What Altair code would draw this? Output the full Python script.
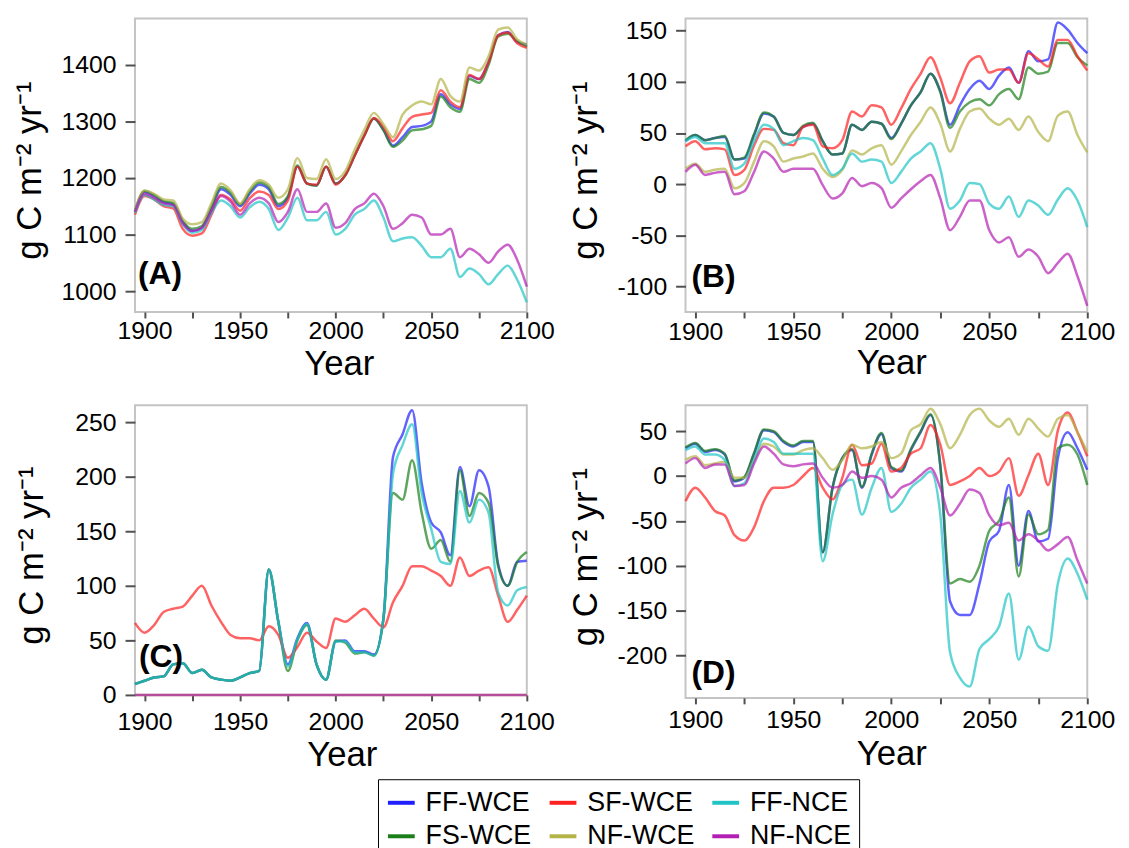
import altair as alt
import pandas as pd

years = [1895, 1900, 1905, 1910, 1915, 1920, 1925, 1930, 1935, 1940,
         1945, 1950, 1955, 1960, 1965, 1970, 1975, 1980, 1985, 1990,
         1995, 2000, 2005, 2010, 2015, 2020, 2025, 2030, 2035, 2040,
         2045, 2050, 2055, 2060, 2065, 2070, 2075, 2080, 2085, 2090,
         2095, 2100]

SERIES = ["FF-WCE", "SF-WCE", "FF-NCE", "FS-WCE", "NF-WCE", "NF-NCE"]
COLORS = ["#1f1fff", "#ff2020", "#20c4c4", "#1a7f1a", "#b3b347", "#b31fb3"]
DRAW_ORDER = ["FF-WCE", "FS-WCE", "SF-WCE", "NF-WCE", "FF-NCE", "NF-NCE"]

# ---------------- Panel A ----------------
A_FF_WCE = [1140, 1175, 1168, 1157, 1153, 1122, 1106, 1112, 1145, 1180,
            1170, 1150, 1172, 1188, 1180, 1150, 1165, 1220, 1190, 1187,
            1220, 1190, 1205, 1240, 1275, 1305, 1285, 1257, 1272, 1290,
            1292, 1300, 1348, 1330, 1322, 1380, 1375, 1405, 1452, 1458,
            1440, 1436]
A_FS_WCE = [1142, 1177, 1170, 1159, 1156, 1124, 1110, 1115, 1150, 1184,
            1174, 1153, 1176, 1192, 1184, 1154, 1168, 1222, 1190, 1186,
            1220, 1190, 1204, 1240, 1275, 1305, 1284, 1255, 1266, 1284,
            1286, 1292, 1344, 1325, 1317, 1375, 1368, 1400, 1450, 1455,
            1442, 1432]
A_SF_WCE = [1135, 1168, 1162, 1150, 1146, 1110, 1098, 1102, 1135, 1170,
            1162, 1142, 1164, 1176, 1170, 1145, 1160, 1220, 1190, 1188,
            1220, 1188, 1205, 1240, 1275, 1306, 1290, 1265, 1288, 1308,
            1312, 1315, 1355, 1335, 1325, 1382, 1375, 1405, 1452, 1457,
            1438, 1430]
A_NF_WCE = [1142, 1178, 1172, 1162, 1160, 1128, 1118, 1122, 1155, 1190,
            1178, 1155, 1180, 1196, 1188, 1165, 1180, 1235, 1200, 1198,
            1233, 1198, 1212, 1250, 1285, 1315, 1295, 1272, 1312, 1328,
            1335, 1330, 1375, 1345, 1335, 1395, 1390, 1415, 1462, 1466,
            1445, 1436]
A_FF_NCE = [1138, 1170, 1162, 1152, 1150, 1118, 1103, 1108, 1138, 1160,
            1150, 1130, 1148, 1158, 1145, 1108, 1130, 1165, 1125, 1125,
            1140, 1100, 1110, 1135, 1145, 1160, 1130, 1088, 1093, 1095,
            1080, 1060, 1060, 1075, 1025, 1040, 1030, 1012, 1030, 1045,
            1020, 980]
A_NF_NCE = [1140, 1172, 1165, 1155, 1152, 1120, 1106, 1112, 1142, 1168,
            1158, 1135, 1155, 1165, 1155, 1122, 1140, 1180, 1140, 1140,
            1155, 1112, 1120, 1145, 1155, 1172, 1150, 1110, 1120, 1135,
            1130, 1100, 1100, 1110, 1060, 1075, 1065, 1050, 1070, 1082,
            1055, 1008]

# ---------------- Panel B ----------------
B_FF_WCE = [42, 48, 43, 45, 46, 24, 25, 48, 69, 66,
            50, 48, 56, 59, 42, 29, 30, 58, 53, 61,
            59, 45, 59, 77, 90, 108, 91, 58, 77, 93,
            101, 93, 106, 114, 99, 130, 120, 122, 158, 151,
            138, 128]
B_FS_WCE = [43, 48, 43, 45, 47, 24, 26, 49, 70, 66,
            50, 48, 57, 60, 42, 29, 30, 58, 53, 61,
            59, 44, 59, 77, 90, 108, 90, 55, 71, 80,
            83, 77, 88, 93, 83, 114, 108, 110, 138, 138,
            124, 116]
B_SF_WCE = [37, 42, 34, 35, 34, 9, 14, 38, 54, 53,
            40, 38, 56, 58, 37, 35, 43, 71, 66, 77,
            75, 58, 74, 93, 108, 124, 104, 79, 99, 120,
            125, 109, 112, 112, 99, 128, 122, 115, 141, 141,
            125, 111]
B_FF_NCE = [42, 46, 40, 40, 40, 15, 20, 42, 58, 54,
            38, 42, 45, 43, 25, 9, 15, 30, 22, 24,
            22, 1, 12, 25, 32, 40, 15, -24, -16, 1,
            0, -19, -24, -12, -32, -16, -21, -30, -15, -4,
            -16, -42]
B_NF_WCE = [15, 20, 12, 14, 15, -4, 1, 22, 42, 37,
            22, 25, 27, 30, 15, 7, 14, 33, 29, 35,
            38, 19, 32, 48, 61, 75, 59, 32, 54, 71,
            74, 64, 58, 64, 53, 66, 51, 42, 67, 71,
            48, 31]
B_NF_NCE = [12, 19, 9, 11, 12, -10, -7, 12, 32, 25,
            12, 15, 15, 15, -1, -14, -9, 6, -2, 1,
            -4, -23, -14, -5, 3, 9, -14, -45, -32, -16,
            -16, -45, -57, -52, -71, -64, -71, -87, -77, -68,
            -90, -119]

# ---------------- Panel C ----------------
C_FF_WCE = [10, 13, 16, 17, 28, 29, 20, 23, 16, 14,
            13, 16, 20, 22, 115, 67, 28, 52, 66, 28,
            14, 49, 50, 40, 40, 37, 70, 218, 239, 261,
            194, 158, 149, 128, 209, 173, 206, 191, 120, 100,
            122, 123]
C_FS_WCE = [10, 13, 16, 17, 28, 29, 20, 23, 16, 14,
            13, 16, 20, 22, 115, 67, 22, 50, 64, 28,
            14, 50, 48, 38, 39, 36, 70, 185, 179, 215,
            167, 134, 142, 122, 206, 164, 185, 176, 118, 100,
            122, 131]
C_SF_WCE = [66, 57, 64, 76, 79, 81, 91, 100, 82, 67,
            55, 52, 52, 50, 63, 55, 34, 44, 57, 49,
            43, 70, 67, 73, 79, 70, 62, 85, 100, 118,
            118, 114, 109, 100, 126, 109, 114, 117, 91, 67,
            78, 91]
C_NF_WCE = [0, 0, 0, 0, 0, 0, 0, 0, 0, 0,
            0, 0, 0, 0, 0, 0, 0, 0, 0, 0,
            0, 0, 0, 0, 0, 0, 0, 0, 0, 0,
            0, 0, 0, 0, 0, 0, 0, 0, 0, 0,
            0, 0]
C_FF_NCE = [10, 13, 16, 17, 28, 29, 20, 23, 16, 14,
            13, 16, 20, 22, 115, 67, 26, 51, 65, 28,
            14, 49, 49, 39, 39, 36, 70, 203, 229, 248,
            185, 152, 122, 120, 187, 158, 179, 167, 94, 82,
            96, 99]
C_NF_NCE = [0, 0, 0, 0, 0, 0, 0, 0, 0, 0,
            0, 0, 0, 0, 0, 0, 0, 0, 0, 0,
            0, 0, 0, 0, 0, 0, 0, 0, 0, 0,
            0, 0, 0, 0, 0, 0, 0, 0, 0, 0,
            0, 0]

# ---------------- Panel D ----------------
D_FF_WCE = [31, 36, 27, 29, 24, -6, -2, 25, 51, 49,
            38, 33, 38, 38, -85, -13, 20, 29, -13, 24,
            47, 9, 5, 29, 49, 68, 12, -140, -155, -155,
            -120, -73, -61, -10, -100, -39, -73, -70, 20, 49,
            31, 7]
D_FS_WCE = [32, 37, 28, 30, 25, -5, -1, 26, 52, 50,
            39, 34, 39, 39, -85, -13, 20, 30, -12, 25,
            48, 10, 6, 30, 50, 69, 12, -120, -115, -118,
            -100, -61, -50, -24, -112, -43, -65, -60, 31, 35,
            24, -10]
D_SF_WCE = [-28, -13, -24, -39, -44, -66, -72, -57, -28, -13,
            -13, -10, 0, 9, -13, -26, -2, 35, 12, 14,
            36, 5, 9, 25, 31, 57, 35, -10, -6, 0,
            9, 0, 5, 20, -22, 1, 25, -10, 51, 71,
            49, 22]
D_NF_WCE = [18, 22, 12, 14, 16, -2, -2, 18, 36, 33,
            24, 24, 29, 31, 20, 7, 18, 35, 31, 33,
            38, 20, 25, 51, 58, 75, 58, 31, 46, 68,
            75, 62, 55, 64, 46, 64, 53, 44, 64, 68,
            49, 27]
D_FF_NCE = [29, 33, 24, 24, 18, -11, -8, 18, 42, 38,
            25, 25, 25, 25, -95, -43, -10, -4, -43, -13,
            9, -40, -31, -13, -4, 5, -43, -197, -225, -235,
            -193, -182, -168, -131, -205, -168, -190, -195, -120, -92,
            -109, -138]
D_NF_NCE = [14, 20, 9, 13, 13, -11, -10, 14, 33, 25,
            13, 11, 13, 14, -2, -13, -10, 5, -2, 0,
            -4, -24, -13, -8, 1, 9, -13, -44, -31, -15,
            -19, -44, -55, -52, -72, -65, -72, -83, -76, -68,
            -94, -120]

A_ticks = [1000, 1100, 1200, 1300, 1400]
B_ticks = [-100, -50, 0, 50, 100, 150]
C_ticks = [0, 50, 100, 150, 200, 250]
D_ticks = [-200, -150, -100, -50, 0, 50]
X_ticks = [1900, 1925, 1950, 1975, 2000, 2025, 2050, 2075, 2100]

YTITLE = "g C m\u207b\u00b2 yr\u207b\u00b9"
FONT = "Liberation Sans"


def make_panel(vals, tag, ydom, yticks, w, h, ytx, xlabpad, xty, xtdx, tagx, tagy):
    rows = []
    for s in DRAW_ORDER:
        for yr, v in zip(years, vals[s]):
            rows.append({"Year": yr, "value": v, "series": s})
    df = pd.DataFrame(rows)
    lines = alt.Chart(df).mark_line(strokeWidth=2.5, opacity=0.7,
                                    interpolate="monotone").encode(
        x=alt.X("Year:Q",
                scale=alt.Scale(domain=[1895, 2100], nice=False, zero=False),
                axis=alt.Axis(values=X_ticks,
                              labelExpr="datum.value % 50 === 0 ? toString(datum.value) : ''",
                              title="Year", tickSize=6, labelPadding=xlabpad,
                              titleX=w / 2 + xtdx, titleY=xty,
                              titleBaseline="alphabetic", labelFlush=False,
                              labelOverlap=False)),
        y=alt.Y("value:Q",
                scale=alt.Scale(domain=ydom, nice=False, zero=False),
                axis=alt.Axis(values=yticks, title=YTITLE, tickSize=10,
                              labelExpr="toString(datum.value)",
                              labelPadding=9, titleX=ytx, titleY=h / 2 + 5,
                              titleBaseline="alphabetic", labelFlush=False,
                              labelOverlap=False)),
        color=alt.Color("series:N",
                        scale=alt.Scale(domain=SERIES, range=COLORS),
                        legend=alt.Legend(title=None, orient="none",
                                          legendX=245, legendY=767,
                                          columns=3, direction="horizontal",
                                          symbolType="stroke",
                                          symbolStrokeWidth=4,
                                          symbolSize=729, symbolOpacity=1,
                                          labelFont=FONT, labelFontSize=27,
                                          labelColor="black", labelOffset=9,
                                          strokeColor="black", fillColor="white",
                                          padding=8, rowPadding=5,
                                          columnPadding=10)),
    )
    label = alt.Chart(pd.DataFrame({"tag": [tag]})).mark_text(
        font=FONT, fontSize=32, fontWeight="bold", align="left",
        baseline="alphabetic", color="black"
    ).encode(text="tag:N", x=alt.value(tagx), y=alt.value(tagy))
    return alt.layer(lines, label).properties(width=w, height=h)


pA = make_panel({"FF-WCE": A_FF_WCE, "FS-WCE": A_FS_WCE, "SF-WCE": A_SF_WCE,
                 "NF-WCE": A_NF_WCE, "FF-NCE": A_FF_NCE, "NF-NCE": A_NF_NCE},
                "(A)", [963, 1482], A_ticks, 395, 296, -95, 1, 63, 8, 3, 268)
pB = make_panel({"FF-WCE": B_FF_WCE, "FS-WCE": B_FS_WCE, "SF-WCE": B_SF_WCE,
                 "NF-WCE": B_NF_WCE, "FF-NCE": B_FF_NCE, "NF-NCE": B_NF_NCE},
                "(B)", [-125, 162], B_ticks, 405, 296, -90, 2, 62, 5, 6, 271)
pC = make_panel({"FF-WCE": C_FF_WCE, "FS-WCE": C_FS_WCE, "SF-WCE": C_SF_WCE,
                 "NF-WCE": C_NF_WCE, "FF-NCE": C_FF_NCE, "NF-NCE": C_NF_NCE},
                "(C)", [0, 265.5], C_ticks, 395, 292, -93, 9, 71, 11, 4, 264)
pD = make_panel({"FF-WCE": D_FF_WCE, "FS-WCE": D_FS_WCE, "SF-WCE": D_SF_WCE,
                 "NF-WCE": D_NF_WCE, "FF-NCE": D_FF_NCE, "NF-NCE": D_NF_NCE},
                "(D)", [-247.6, 79], D_ticks, 405, 295, -90, 4, 67, 5, 6, 280)

chart = alt.concat(pA, pB, pC, pD, columns=2,
                   spacing={"row": 94, "column": 160},
                   bounds="flush", align="each").properties(
    padding={"left": 3, "top": 5, "right": 5, "bottom": 5},
    background="white",
).configure_view(
    stroke="#c4c4c4", strokeWidth=2
).configure_axis(
    labelFont=FONT, labelFontSize=25, labelColor="black",
    titleFont=FONT, titleFontSize=35, titleFontWeight="normal",
    titleColor="black", grid=False, domain=False,
    tickColor="#505050", tickWidth=2
)

chart.save("out.html", embed_options={"renderer": "svg", "actions": False})
